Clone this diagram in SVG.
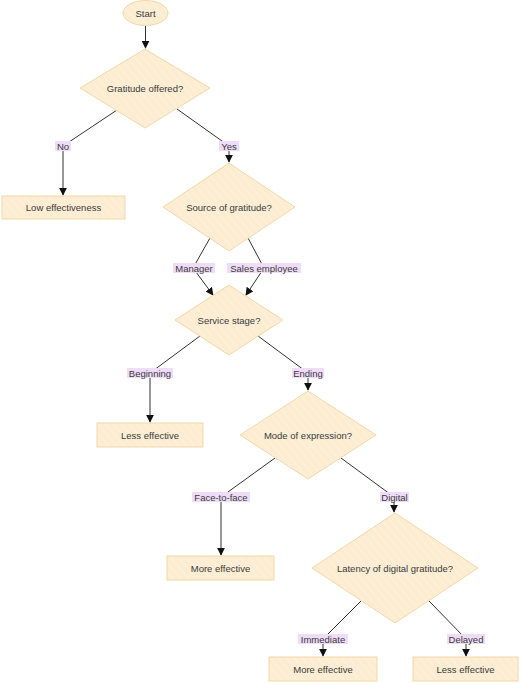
<svg xmlns="http://www.w3.org/2000/svg" width="520" height="683" viewBox="0 0 520 683">
<style>
.node{fill:url(#hatch);stroke:#f0d8a8;stroke-width:1}
.t{font-family:"Liberation Sans",Arial,sans-serif;font-size:9.5px;fill:#3a3a3a;text-anchor:middle;dominant-baseline:central}
.edge{fill:none;stroke:#333;stroke-width:1}
.lbg{fill:#efdcf8}
</style>
<defs>
<pattern id="hatch" patternUnits="userSpaceOnUse" width="6" height="6" patternTransform="rotate(-40)">
<rect width="6" height="6" fill="#fcedd2"/>
<line x1="0" y1="0" x2="0" y2="6" stroke="#fff5e4" stroke-width="1.2"/>
</pattern>
<marker id="arr" viewBox="0 0 10 10" refX="9" refY="5" markerWidth="8" markerHeight="8" markerUnits="userSpaceOnUse" orient="auto">
<path d="M0,0 L10,5 L0,10 z" fill="#111"/>
</marker>
</defs>
<g id="connectors">
<path class="edge" d="M145.5,25.5 L145.5,48" marker-end="url(#arr)"/>
<path class="edge" d="M117,110 L63,146 L63,195" marker-end="url(#arr)"/>
<path class="edge" d="M177,109 L229,146 L229,162" marker-end="url(#arr)"/>
<path class="edge" d="M210,238 L193,268 L213,295" marker-end="url(#arr)"/>
<path class="edge" d="M248,238 L264,268 L246,295" marker-end="url(#arr)"/>
<path class="edge" d="M200,336 L150,373 L150,422" marker-end="url(#arr)"/>
<path class="edge" d="M258,336 L308,373 L308,390" marker-end="url(#arr)"/>
<path class="edge" d="M275,458 L221,497 L221,555" marker-end="url(#arr)"/>
<path class="edge" d="M341,458 L394,497 L394,512" marker-end="url(#arr)"/>
<path class="edge" d="M361,601 L323,639 L323,656" marker-end="url(#arr)"/>
<path class="edge" d="M429,601 L466,639 L466,656" marker-end="url(#arr)"/>
<g id="edge-labels">
<rect class="lbg" x="55" y="141" width="16" height="10"/><text class="t" x="63" y="146">No</text>
<rect class="lbg" x="219" y="141" width="20" height="10"/><text class="t" x="229" y="146">Yes</text>
<rect class="lbg" x="173" y="263" width="42" height="10"/><text class="t" x="194" y="268">Manager</text>
<rect class="lbg" x="227" y="263" width="74" height="10"/><text class="t" x="264" y="268">Sales employee</text>
<rect class="lbg" x="127" y="368" width="46" height="10"/><text class="t" x="150" y="373">Beginning</text>
<rect class="lbg" x="292" y="368" width="32" height="10"/><text class="t" x="308" y="373">Ending</text>
<rect class="lbg" x="192" y="492" width="58" height="10"/><text class="t" x="221" y="497">Face-to-face</text>
<rect class="lbg" x="380" y="492" width="29" height="10"/><text class="t" x="394.5" y="497">Digital</text>
<rect class="lbg" x="298" y="634" width="50" height="10"/><text class="t" x="323" y="639">Immediate</text>
<rect class="lbg" x="447" y="634" width="38" height="10"/><text class="t" x="466" y="639">Delayed</text>
</g>
</g>
<g id="start"><ellipse class="node" cx="145.5" cy="13" rx="22.5" ry="12.5"/><text class="t" x="145.5" y="13">Start</text></g>
<g id="gratitude-offered"><polygon class="node" points="145,49 210,88 145,128 80,88"/><text class="t" x="145" y="88">Gratitude offered?</text></g>
<g id="low-effectiveness"><rect class="node" x="2" y="196" width="123" height="23"/><text class="t" x="63.5" y="207.5">Low effectiveness</text></g>
<g id="source-of-gratitude"><polygon class="node" points="229,163 295,207 229,251 163,207"/><text class="t" x="229" y="207">Source of gratitude?</text></g>
<g id="service-stage"><polygon class="node" points="229,285 283,320 229,355 175,320"/><text class="t" x="229" y="320">Service stage?</text></g>
<g id="less-effective-1"><rect class="node" x="97" y="423" width="106" height="24"/><text class="t" x="150" y="435">Less effective</text></g>
<g id="mode-of-expression"><polygon class="node" points="308,391 376,435 308,479 240,435"/><text class="t" x="308" y="435">Mode of expression?</text></g>
<g id="more-effective-1"><rect class="node" x="167" y="556" width="107" height="24"/><text class="t" x="220.5" y="568">More effective</text></g>
<g id="latency"><polygon class="node" points="395,513 478,568 395,623 312,568"/><text class="t" x="395" y="568">Latency of digital gratitude?</text></g>
<g id="more-effective-2"><rect class="node" x="269" y="657" width="108" height="24"/><text class="t" x="323" y="669">More effective</text></g>
<g id="less-effective-2"><rect class="node" x="413" y="657" width="105" height="24"/><text class="t" x="465.5" y="669">Less effective</text></g>
</svg>
